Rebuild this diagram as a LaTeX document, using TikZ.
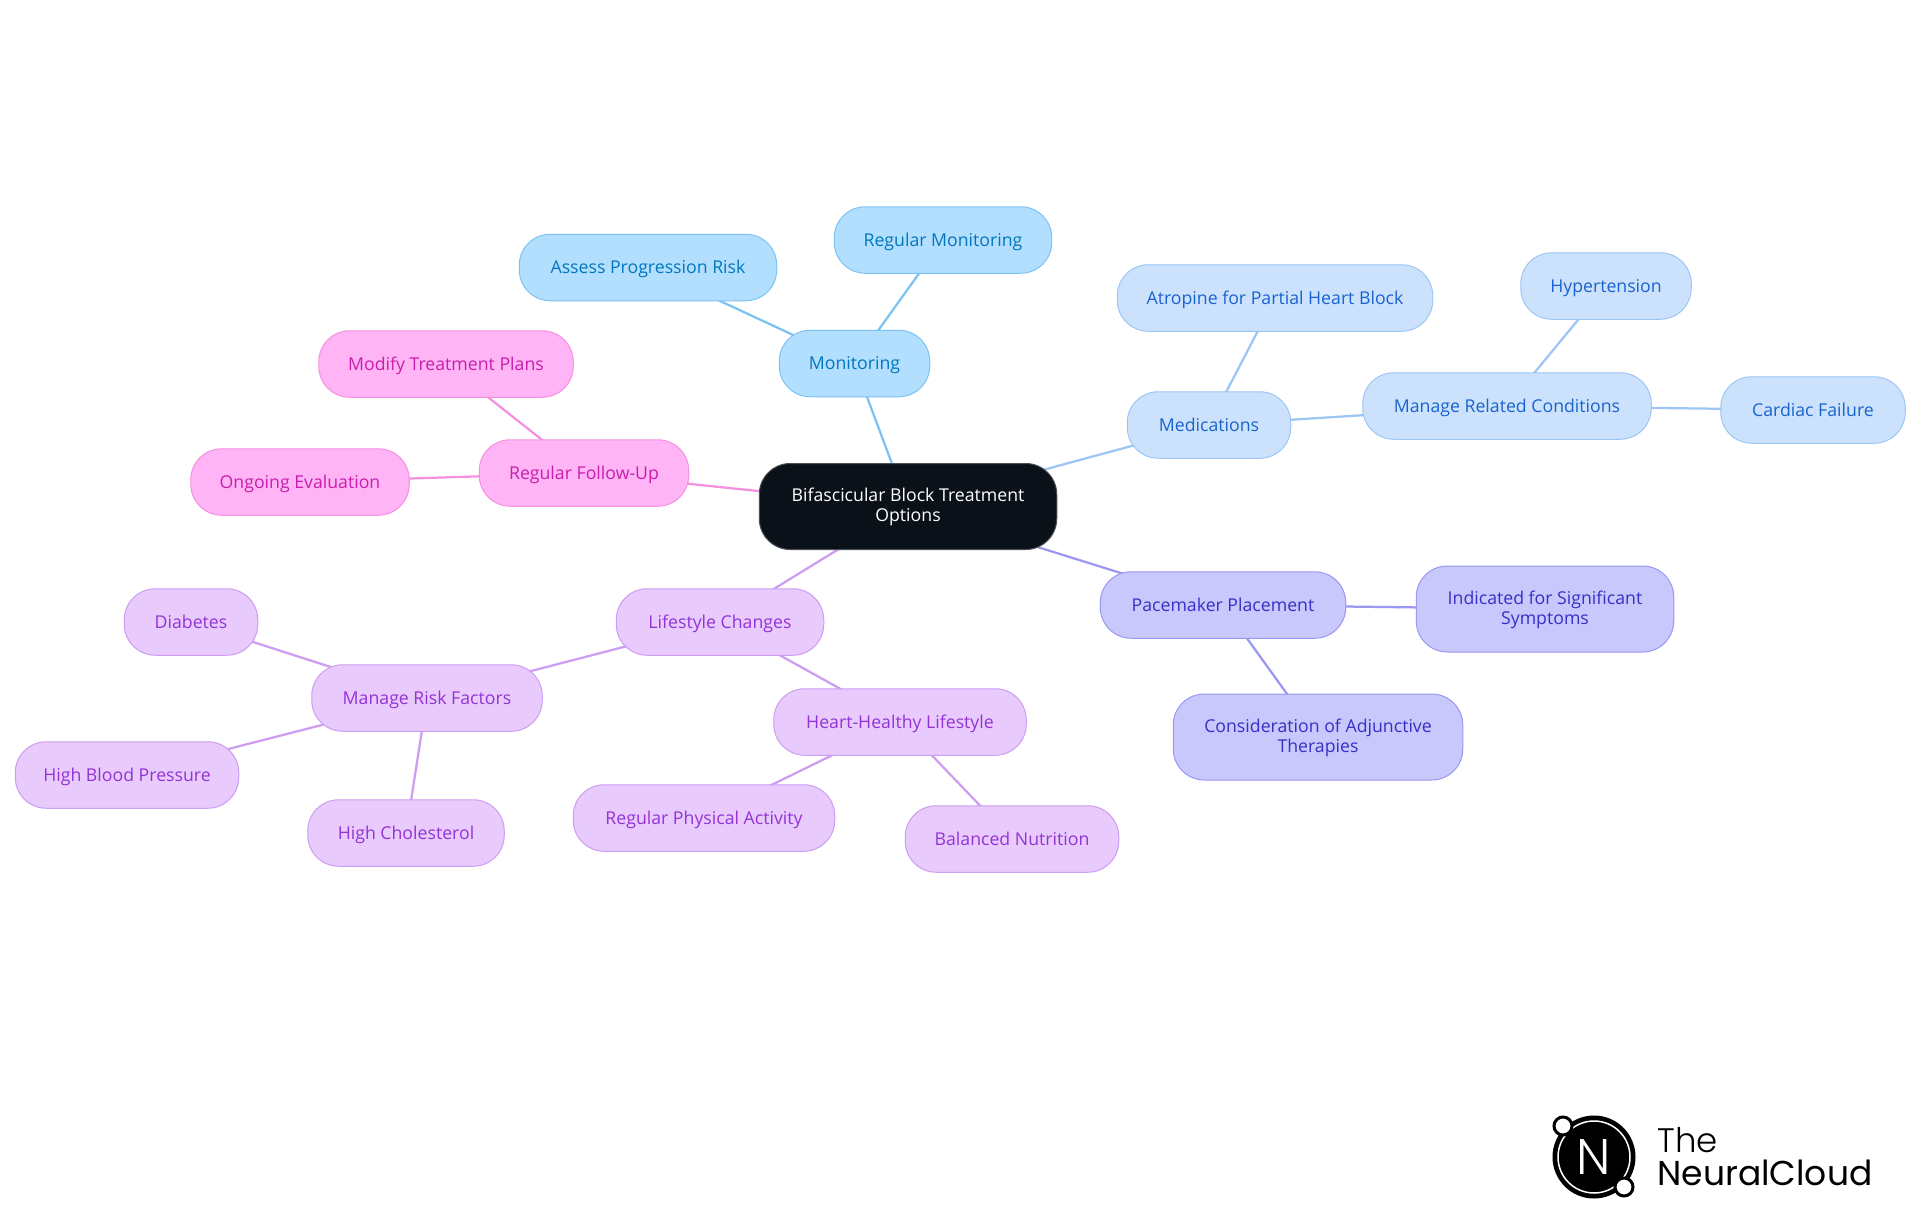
\documentclass[tikz,border=0pt]{standalone}
\usepackage{fontspec}
\setmainfont{Open Sans}
\newfontfamily\logofont[UprightFont=* Light]{Poppins}
\newfontfamily\logobold{Poppins}
\usetikzlibrary{backgrounds}
\definecolor{rootfill}{HTML}{0B1118}
\definecolor{rootline}{HTML}{4A4E55}
\definecolor{monfill}{HTML}{B3DFFF}
\definecolor{monline}{HTML}{7CC2F3}
\definecolor{montext}{HTML}{0277BD}
\definecolor{medfill}{HTML}{CCE2FC}
\definecolor{medline}{HTML}{9DC6F5}
\definecolor{medtext}{HTML}{1A63CE}
\definecolor{pacefill}{HTML}{C8C8FD}
\definecolor{paceline}{HTML}{9A98F2}
\definecolor{pacetext}{HTML}{3730C4}
\definecolor{lifefill}{HTML}{E8CBFC}
\definecolor{lifeline}{HTML}{CE9DF1}
\definecolor{lifetext}{HTML}{9333D6}
\definecolor{followfill}{HTML}{FFB4F5}
\definecolor{followline}{HTML}{F58FE0}
\definecolor{followtext}{HTML}{C81EAE}
\begin{document}
\begin{tikzpicture}[thick, text node/.style={rounded corners=31pt, line width=1pt, minimum height=66.5pt, align=center, text height=16pt, text depth=4pt, font=\fontsize{17.7}{20}\selectfont},
    root node/.style={text node, fill=rootfill, draw=rootline, text=white},
    mon node/.style={text node, fill=monfill, draw=monline, text=montext},
    med node/.style={text node, fill=medfill, draw=medline, text=medtext},
    pace node/.style={text node, fill=pacefill, draw=paceline, text=pacetext},
    life node/.style={text node, fill=lifefill, draw=lifeline, text=lifetext},
    follow node/.style={text node, fill=followfill, draw=followline, text=followtext},
    wide/.style={minimum width=#1-0.5pt, inner sep=0pt},
    two line/.style={minimum height=86pt, text height=34pt},
    link/.style={line width=2.25pt}]
    \useasboundingbox (0pt,0pt) rectangle (1920pt,-1215pt);
    \node[root node, wide=298pt, two line](root) at (908pt,-506.5pt){Bifascicular Block Treatment\\Options};

    \node[mon node, wide=151pt](mon)[above of=root, node distance=143pt, xshift=-53.5pt]{Monitoring};
    \node[mon node, wide=258pt](assess)[above of=mon, node distance=96pt, xshift=-206.5pt]{Assess Progression Risk};
    \node[mon node, wide=218pt](regmon)[above of=mon, node distance=123.5pt, xshift=88.5pt]{Regular Monitoring};

    \node[med node, wide=164pt](meds)[right of=root, node distance=301pt, yshift=81.5pt]{Medications};
    \node[med node, wide=316pt](atropine)[above of=meds, node distance=127pt, xshift=66pt]{Atropine for Partial Heart Block};
    \node[med node, wide=289pt](related)[right of=meds, node distance=298pt, yshift=19pt]{Manage Related Conditions};
    \node[med node, wide=171pt](hyper)[above of=related, node distance=120pt, xshift=99pt]{Hypertension};
    \node[med node, wide=185pt](cardiac)[right of=related, node distance=306pt, yshift=-4pt]{Cardiac Failure};

    \node[pace node, wide=246pt](pace)[right of=root, node distance=315pt, yshift=-98.5pt]{Pacemaker Placement};
    \node[pace node, wide=258pt, two line](indicated)[right of=pace, node distance=322pt, yshift=-4pt]{Indicated for Significant\\Symptoms};
    \node[pace node, wide=290pt, two line](adjunct)[below of=pace, node distance=132pt, xshift=95pt]{Consideration of Adjunctive\\Therapies};

    \node[life node, wide=208pt](life)[left of=root, node distance=188pt, yshift=-115.5pt]{Lifestyle Changes};
    \node[life node, wide=253pt](heart)[below of=life, node distance=100pt, xshift=180pt]{Heart-Healthy Lifestyle};
    \node[life node, wide=262pt](activity)[below of=heart, node distance=96pt, xshift=-196pt]{Regular Physical Activity};
    \node[life node, wide=214pt](nutrition)[below of=heart, node distance=117pt, xshift=112pt]{Balanced Nutrition};
    \node[life node, wide=231pt](risk)[left of=life, node distance=293pt, yshift=-76pt]{Manage Risk Factors};
    \node[life node, wide=134pt](diabetes)[left of=risk, node distance=236pt, yshift=76pt]{Diabetes};
    \node[life node, wide=224pt](pressure)[left of=risk, node distance=300pt, yshift=-77pt]{High Blood Pressure};
    \node[life node, wide=197pt](chol)[below of=risk, node distance=135pt, xshift=-21pt]{High Cholesterol};

    \node[follow node, wide=210pt](follow)[left of=root, node distance=324pt, yshift=33.5pt]{Regular Follow-Up};
    \node[follow node, wide=255pt](modify)[above of=follow, node distance=109pt, xshift=-138pt]{Modify Treatment Plans};
    \node[follow node, wide=219pt](ongoing)[left of=follow, node distance=284pt, yshift=-9pt]{Ongoing Evaluation};

\begin{scope}[on background layer]
\foreach \s/\t in {root/mon, mon/assess, mon/regmon}{
    \draw[link, monline] (\s.center) -- (\t.center);}
\foreach \s/\t in {root/meds, meds/atropine, meds/related, related/hyper, related/cardiac}{
    \draw[link, medline] (\s.center) -- (\t.center);}
\foreach \s/\t in {root/pace, pace/indicated, pace/adjunct}{
    \draw[link, paceline] (\s.center) -- (\t.center);}
\foreach \s/\t in {root/life, life/heart, heart/activity, heart/nutrition, life/risk, risk/diabetes, risk/pressure, risk/chol}{
    \draw[link, lifeline] (\s.center) -- (\t.center);}
\foreach \s/\t in {root/follow, follow/modify, follow/ongoing}{
    \draw[link, followline] (\s.center) -- (\t.center);}
\end{scope}

    \node[circle, fill=black, minimum size=83pt, inner sep=0pt](badge) at (1594pt,-1157pt){};
    \node[circle, draw=white, line width=1.5pt, minimum size=72pt, inner sep=0pt, text=white, font=\logofont\fontsize{50}{50}\selectfont](ring) at (badge.center){N};
    \node[circle, fill=white, draw=black, line width=3pt, minimum size=18pt, inner sep=0pt](dota) at (1563pt,-1126pt){};
    \node[circle, fill=white, draw=black, line width=3pt, minimum size=18pt, inner sep=0pt](dotb) at (1624pt,-1187pt){};
    \node[anchor=base west, inner sep=0pt, font=\logofont\fontsize{34}{34}\selectfont](the) at (1657pt,-1152pt){The};
    \node[anchor=base west, inner sep=0pt, font=\logobold\fontsize{34.5}{34.5}\selectfont](cloud) at (1657pt,-1185pt){NeuralCloud};
\end{tikzpicture}
\end{document}
